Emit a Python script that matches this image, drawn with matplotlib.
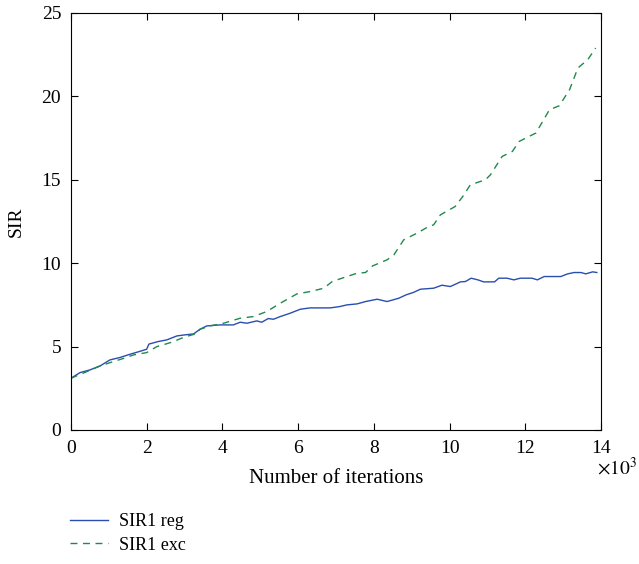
import matplotlib
matplotlib.use("Agg")
import matplotlib.pyplot as plt

plt.rcParams['font.family'] = ['Liberation Serif', 'DejaVu Serif']
plt.rcParams['mathtext.fontset'] = 'stix'

# iterations (x10^3) and SIR values
x_reg = [0.0, 0.24, 0.5, 0.77, 1.03, 1.3, 1.56, 1.8, 2.0, 2.06, 2.3, 2.53, 2.8, 3.0, 3.24, 3.41, 3.59,
         3.94, 4.29, 4.47, 4.65, 4.91, 5.04, 5.21, 5.35, 5.53, 5.79, 6.06, 6.32, 6.6, 6.85, 7.1, 7.29,
         7.56, 7.78, 8.09, 8.35, 8.66, 8.85, 9.05, 9.23, 9.58, 9.8, 10.02, 10.29, 10.42, 10.57, 10.75,
         10.9, 11.19, 11.3, 11.52, 11.7, 11.87, 12.18, 12.32, 12.5, 12.94, 13.12, 13.29, 13.47, 13.6,
         13.78, 13.89]
y_reg = [3.1, 3.44, 3.6, 3.84, 4.2, 4.35, 4.54, 4.7, 4.84, 5.15, 5.3, 5.4, 5.64, 5.7, 5.76, 6.04, 6.24,
         6.3, 6.3, 6.46, 6.4, 6.54, 6.46, 6.68, 6.64, 6.8, 7.0, 7.24, 7.32, 7.32, 7.32, 7.4, 7.5,
         7.56, 7.7, 7.84, 7.7, 7.9, 8.1, 8.25, 8.44, 8.5, 8.68, 8.6, 8.88, 8.9, 9.1, 9.0,
         8.88, 8.88, 9.1, 9.1, 9.0, 9.1, 9.1, 9.0, 9.2, 9.2, 9.36, 9.44, 9.44, 9.36,
         9.48, 9.44]

x_exc = [0.0, 0.42, 0.77, 1.12, 1.4, 1.65, 2.0, 2.27, 2.5, 2.71, 2.98, 3.29, 3.41, 3.68, 4.03, 4.47,
         4.82, 5.17, 5.53, 5.97, 6.32, 6.68, 6.9, 7.29, 7.56, 7.78, 7.97, 8.35, 8.53, 8.79, 9.14,
         9.45, 9.58, 9.76, 10.15, 10.35, 10.55, 10.95, 11.08, 11.39, 11.66, 11.84, 12.1, 12.28,
         12.64, 12.9, 13.17, 13.39, 13.65, 13.86]
y_exc = [3.1, 3.5, 3.84, 4.1, 4.3, 4.5, 4.64, 5.0, 5.15, 5.3, 5.56, 5.76, 6.04, 6.24, 6.4, 6.7,
         6.8, 7.1, 7.6, 8.16, 8.3, 8.5, 8.9, 9.2, 9.4, 9.44, 9.84, 10.2, 10.5, 11.4, 11.8,
         12.2, 12.3, 12.9, 13.4, 14.0, 14.7, 15.0, 15.3, 16.4, 16.7, 17.3, 17.6, 17.8,
         19.2, 19.44, 20.4, 21.7, 22.2, 22.9]

fig = plt.figure(figsize=(6.39, 5.64), dpi=100)
ax = fig.add_axes([0.111, 0.2376, 0.8295, 0.7394])

ax.plot(x_reg, y_reg, color='#2a4db0', lw=1.0, label='SIR1 reg')
ax.plot(x_exc, y_exc, color='#1f8a4c', lw=1.0, ls=(0, (5, 4)), label='SIR1 exc')

ax.set_xlim(0, 14)
ax.set_ylim(0, 25)
ax.set_xticks(range(0, 15, 2))
ax.set_yticks(range(0, 26, 5))
ax.tick_params(direction='in', top=True, right=True, labelsize=14, length=5, pad=7)
ax.set_xlabel('Number of iterations', fontsize=15, labelpad=9)
ax.set_ylabel('SIR', fontsize=14, labelpad=12)
fig.text(0.934, 0.158, r'$\times10^3$', fontsize=14, ha='left')

fig.legend(loc='upper left', bbox_to_anchor=(0.11, 0.09), frameon=False,
           fontsize=13, handlelength=2.1, handletextpad=0.6, labelspacing=0.35,
           borderaxespad=0, borderpad=0)

fig.savefig('out.png', dpi=100)
